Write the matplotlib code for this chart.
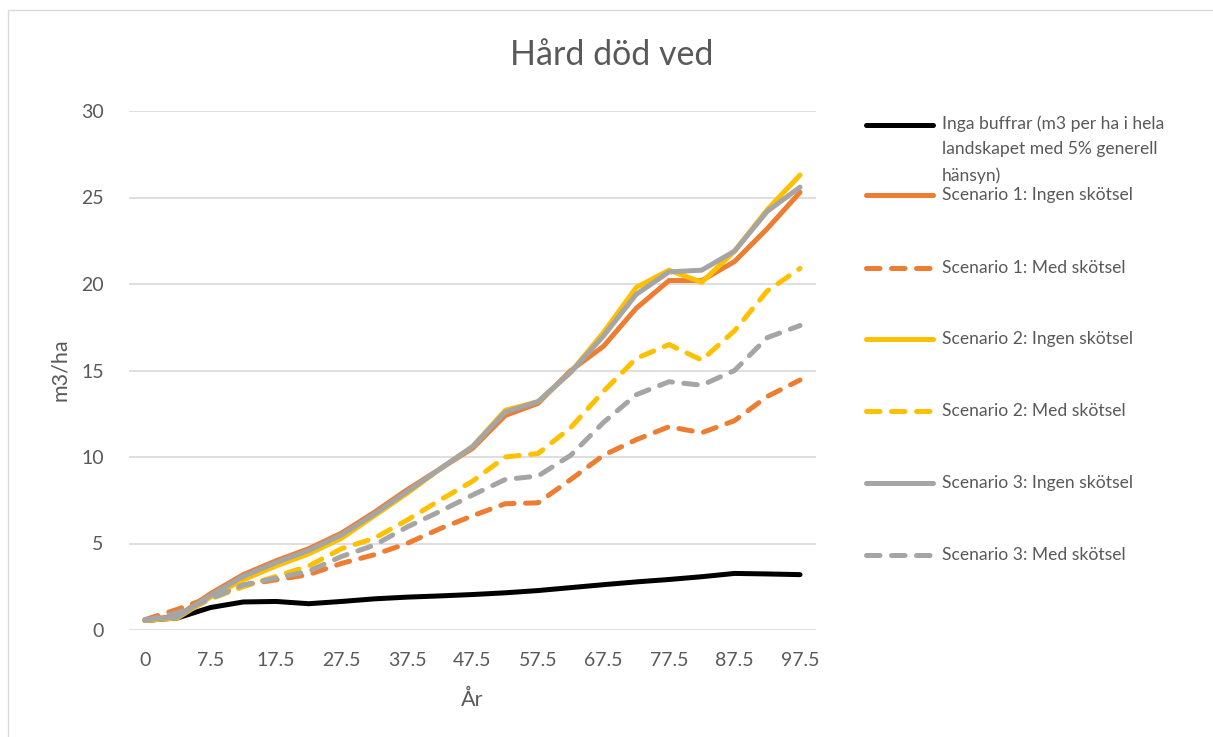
import numpy as np
import matplotlib.pyplot as plt
from matplotlib.lines import Line2D
from matplotlib.patches import Rectangle

# ---- data ----
years = [0, 2.5, 7.5, 12.5, 17.5, 22.5, 27.5, 32.5, 37.5, 42.5, 47.5,
         52.5, 57.5, 62.5, 67.5, 72.5, 77.5, 82.5, 87.5, 92.5, 97.5]

inga_buffrar = [0.55, 0.7, 1.3, 1.62, 1.65, 1.52, 1.65, 1.8, 1.9, 1.97, 2.05,
                2.15, 2.28, 2.45, 2.62, 2.78, 2.92, 3.08, 3.27, 3.24, 3.2]
s1_ingen = [0.6, 0.8, 2.1, 3.2, 4.0, 4.7, 5.6, 6.8, 8.1, 9.3, 10.5,
            12.4, 13.1, 15.0, 16.4, 18.6, 20.2, 20.2, 21.3, 23.2, 25.3]
s1_med = [0.6, 1.2, 1.9, 2.6, 2.9, 3.2, 3.85, 4.35, 5.0, 5.85, 6.6,
          7.3, 7.35, 8.7, 10.1, 11.0, 11.75, 11.4, 12.1, 13.5, 14.45]
s2_ingen = [0.55, 0.7, 1.9, 2.9, 3.7, 4.4, 5.3, 6.6, 7.9, 9.3, 10.6,
            12.7, 13.2, 14.9, 17.2, 19.8, 20.8, 20.1, 21.9, 24.3, 26.3]
s2_med = [0.55, 0.8, 1.8, 2.5, 3.1, 3.7, 4.7, 5.3, 6.35, 7.5, 8.6,
          10.0, 10.2, 11.7, 13.8, 15.7, 16.5, 15.6, 17.3, 19.6, 20.9]
s3_ingen = [0.6, 0.75, 2.0, 3.1, 3.9, 4.6, 5.5, 6.7, 8.0, 9.3, 10.6,
            12.6, 13.2, 14.9, 17.0, 19.4, 20.7, 20.8, 21.9, 24.2, 25.6]
s3_med = [0.55, 1.0, 1.8, 2.6, 3.0, 3.4, 4.25, 4.9, 5.95, 6.85, 7.8,
          8.7, 8.9, 10.1, 12.0, 13.6, 14.35, 14.15, 15.0, 16.9, 17.6]

labels = ['Inga buffrar (m3 per ha i hela\nlandskapet med 5% generell\nhänsyn)',
          'Scenario 1: Ingen skötsel', 'Scenario 1: Med skötsel',
          'Scenario 2: Ingen skötsel', 'Scenario 2: Med skötsel',
          'Scenario 3: Ingen skötsel', 'Scenario 3: Med skötsel']
series = [inga_buffrar, s1_ingen, s1_med, s2_ingen, s2_med, s3_ingen, s3_med]
colors = ['#000000', '#ED7D31', '#ED7D31', '#FFC000', '#FFC000', '#A5A5A5', '#A5A5A5']
dashed = [False, False, True, False, True, False, True]

TXT = '#595959'
W, H = 1213, 737
plt.rcParams['font.family'] = ['Lato', 'DejaVu Sans']

fig = plt.figure(figsize=(W / 100, H / 100), dpi=100)
ax = fig.add_axes([128.6 / W, 1 - 630 / H, (816.4 - 128.6) / W, (630 - 111) / H])

x = np.arange(len(years))
lw = 3.6
lines = []
for ys, c, d in zip(series, colors, dashed):
    ln, = ax.plot(x, ys, color=c, lw=lw, solid_capstyle='round', dash_capstyle='round',
                  solid_joinstyle='round')
    if d:
        ln.set_dashes((2.7, 2.3))
    lines.append(ln)

ax.set_xlim(-0.5, len(years) - 0.5)
ax.set_ylim(0, 30)
ax.set_yticks(np.arange(0, 31, 5))
ax.set_xticks(x[::2])
ax.set_xticklabels([f'{v:g}' for v in years[::2]])
ax.tick_params(axis='both', length=0, labelsize=14, labelcolor=TXT)
ax.tick_params(axis='y', pad=18)
ax.tick_params(axis='x', pad=16)
ax.grid(axis='y', color='#D9D9D9', lw=1.2)
ax.set_axisbelow(True)
for s in ax.spines.values():
    s.set_visible(False)

fig.text(612 / W, 1 - 55 / H, 'Hård död ved', ha='center', va='center', fontsize=24.5, color=TXT)
fig.text(60 / W, 1 - 370 / H, 'm3/ha', ha='center', va='center', rotation=90, fontsize=15.5, color=TXT)
fig.text(472 / W, 1 - 700 / H, 'År', ha='center', va='center', fontsize=15.5, color=TXT)

# legend drawn by hand to keep Excel's spacing
leg_y = [125, 195, 268, 339, 411, 483, 555]
for ln, lab, yy in zip(lines, labels, leg_y):
    h = Line2D([866 / W, 933 / W], [1 - yy / H] * 2, transform=fig.transFigure,
               color=ln.get_color(), lw=lw, solid_capstyle='round', dash_capstyle='round')
    if ln.get_linestyle() != '-':
        h.set_dashes((2.7, 2.3))
    fig.add_artist(h)
    if '\n' in lab:
        fig.text(942 / W, 1 - (yy - 10) / H, lab, ha='left', va='top', fontsize=12.6,
                 color=TXT, linespacing=1.75)
    else:
        fig.text(942 / W, 1 - yy / H, lab, ha='left', va='center', fontsize=12.6, color=TXT)

fig.add_artist(Rectangle((8 / W, -0.01), 1.1, 1 - 10 / H + 0.01, transform=fig.transFigure,
                         fill=False, edgecolor='#D9D9D9', lw=1))

fig.savefig('out.png', dpi=100, facecolor='white')
